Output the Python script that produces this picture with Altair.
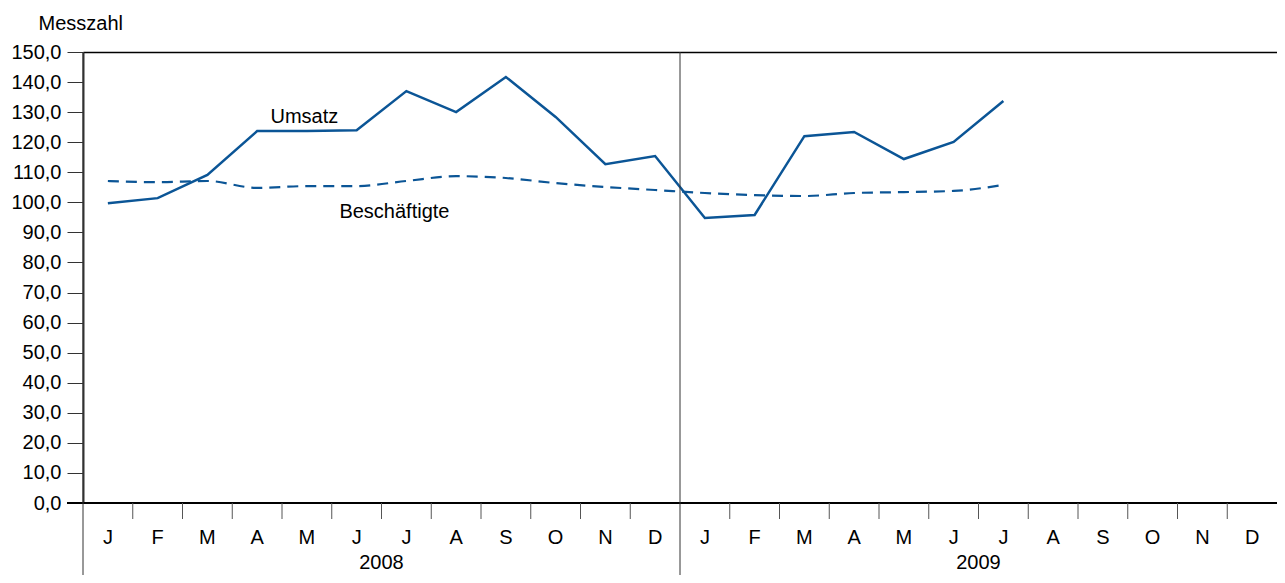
import altair as alt
import pandas as pd

months = ["J", "F", "M", "A", "M", "J", "J", "A", "S", "O", "N", "D"]
years = ["2008", "2009"]

umsatz = [99.7, 101.4, 109.1, 123.7, 123.7, 124.0, 137.0, 130.0, 141.7, 128.4, 112.7, 115.4,
          94.8, 95.8, 122.0, 123.4, 114.4, 120.1, 133.7]
beschaeftigte = [107.1, 106.7, 107.1, 104.8, 105.4, 105.4, 107.1, 108.7, 108.1, 106.4, 105.1, 104.1,
                 103.1, 102.4, 102.1, 103.1, 103.4, 103.8, 105.8]

label_text = ["Umsatz", "Beschäftigte"]
label_x = [4.45, 6.26]
label_y = [128.4, 96.8]

FONT = "Liberation Sans"
FS = 20
BLUE = "#0b5596"
W, H = 1194, 451

xscale = alt.Scale(domain=[0, 24], nice=False, zero=False)
yscale = alt.Scale(domain=[0, 150], nice=False)

df_u = pd.DataFrame({"x": [i + 0.5 for i in range(len(umsatz))], "v": umsatz})
df_b = pd.DataFrame({"x": [i + 0.5 for i in range(len(beschaeftigte))], "v": beschaeftigte})

month_df = pd.DataFrame({"x": [i + 0.5 for i in range(24)], "m": months * 2})
year_df = pd.DataFrame({"x": [6, 18], "y": years})
tick_df = pd.DataFrame({"x": [i for i in range(1, 24) if i != 12]})
sep_df = pd.DataFrame({"x": [0, 12]})
zero_df = pd.DataFrame({"v": [0]})
lab_df = pd.DataFrame({"x": label_x, "v": label_y, "t": label_text})

x_axis = alt.Axis(orient="top", labels=False, ticks=False, grid=False,
                  title=None, domainColor="black", domainWidth=1.5)
y_axis = alt.Axis(values=list(range(0, 151, 10)), grid=False,
                  labelExpr="replace(format(datum.value, '.1f'), '.', ',')",
                  labelFont=FONT, labelFontSize=FS, labelColor="black",
                  labelOverlap=False, labelFlush=False, labelBound=False,
                  labelPadding=6, tickSize=16, tickColor="#333",
                  domainColor="#333", domainWidth=2,
                  title="Messzahl", titleAngle=0, titleFont=FONT,
                  titleFontSize=FS, titleFontWeight="normal",
                  titleAlign="left", titleBaseline="alphabetic",
                  titleX=-45, titleY=-23, titleColor="black")


def X():
    return alt.X("x:Q", scale=xscale, axis=x_axis)


def Y():
    return alt.Y("v:Q", scale=yscale, axis=y_axis)


line_u = alt.Chart(df_u).mark_line(color=BLUE, strokeWidth=2.5).encode(x=X(), y=Y())
line_b = alt.Chart(df_b).mark_line(color=BLUE, strokeWidth=2.2, strokeDash=[11, 7],
                                   interpolate="monotone").encode(x=X(), y=Y())

zero_line = alt.Chart(zero_df).mark_rule(color="black", strokeWidth=2).encode(
    y=Y(), x=alt.value(-16), x2=alt.value(W))

ticks = alt.Chart(tick_df).mark_rule(color="#555", strokeWidth=1).encode(
    x=X(), y=alt.value(H), y2=alt.value(H + 16))

seps = alt.Chart(sep_df).mark_rule(color="#333", strokeWidth=1).encode(
    x=X(), y=alt.value(0), y2=alt.value(H + 75))

month_text = alt.Chart(month_df).mark_text(font=FONT, fontSize=FS, color="black",
                                           baseline="middle").encode(
    x=X(), y=alt.value(H + 35), text="m:N")

year_text = alt.Chart(year_df).mark_text(font=FONT, fontSize=FS, color="black",
                                         baseline="middle").encode(
    x=X(), y=alt.value(H + 60), text="y:N")

ann = alt.Chart(lab_df).mark_text(font=FONT, fontSize=FS, color="black",
                                  baseline="middle").encode(
    x=X(), y=Y(), text="t:N")

chart = alt.layer(line_u, line_b, zero_line, ticks, seps, month_text, year_text, ann).properties(
    width=W, height=H,
    autosize=alt.AutoSizeParams(type="none"),
    padding={"left": 75, "top": 44, "right": 0, "bottom": 72},
).configure_view(stroke=None).configure(background="white")

chart.save("out.html", embed_options={"renderer": "svg", "actions": False})
